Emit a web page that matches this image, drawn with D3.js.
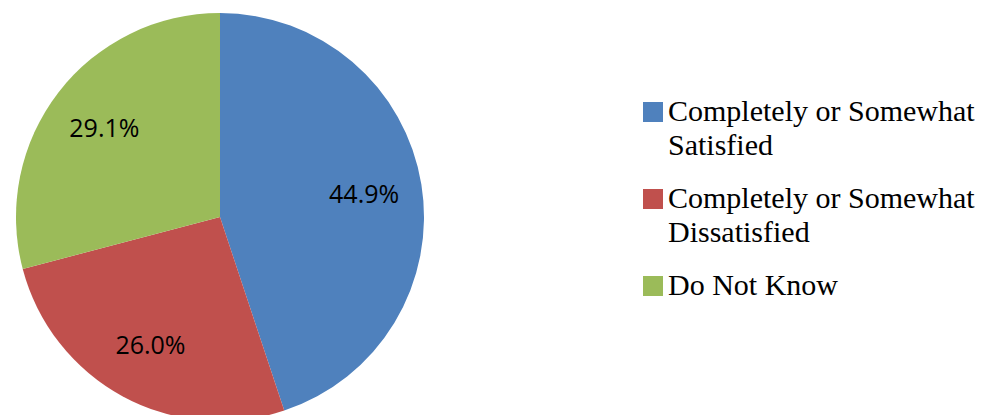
<!DOCTYPE html>
<html>
<head>
<meta charset="utf-8">
<script src="https://cdn.jsdelivr.net/npm/d3@7/dist/d3.min.js"></script>
<style>
  html, body { margin: 0; padding: 0; background: #ffffff; }
  svg { display: block; }
</style>
</head>
<body>
<svg id="chart" width="1005" height="415"></svg>
<script>
// Data
const categories = [
  ["Completely or Somewhat", "Satisfied"],
  ["Completely or Somewhat", "Dissatisfied"],
  ["Do Not Know"]
];
const values = [44.9, 26.0, 29.1];
const valueLabels = ["44.9%", "26.0%", "29.1%"];
const colors = ["#4F81BD", "#C0504D", "#9BBB59"];

const svg = d3.select("#chart");
const cx = 220, cy = 217, R = 204;

const pie = d3.pie().sort(null).value(d => d)(values);
const arc = d3.arc().innerRadius(0).outerRadius(R);
const labelArc = d3.arc().innerRadius(146).outerRadius(146);

const g = svg.append("g").attr("transform", `translate(${cx},${cy})`);

g.selectAll("path.slice")
  .data(pie)
  .join("path")
  .attr("class", "slice")
  .attr("d", arc)
  .attr("fill", (d, i) => colors[i]);

g.selectAll("text.lbl")
  .data(pie)
  .join("text")
  .attr("class", "lbl")
  .attr("transform", d => {
    const c = labelArc.centroid(d);
    return `translate(${c[0]},${c[1]})`;
  })
  .attr("text-anchor", "middle")
  .attr("dy", "0.36em")
  .attr("font-family", "'Open Sans', 'Liberation Sans', sans-serif")
  .attr("font-size", 25)
  .attr("fill", "#000")
  .text((d, i) => valueLabels[i]);

// Legend
const legX = 643, legY0 = 121, lineH = 34, itemGap = 53, sq = 20;
const leg = svg.append("g");
let y = legY0;
categories.forEach((lines, i) => {
  leg.append("rect")
    .attr("x", legX).attr("y", y - sq + 1)
    .attr("width", sq).attr("height", sq)
    .attr("fill", colors[i]);
  const t = leg.append("text")
    .attr("x", legX + 25).attr("y", y)
    .attr("font-family", "'Liberation Serif', 'Times New Roman', serif")
    .attr("font-size", 30)
    .attr("fill", "#000");
  lines.forEach((ln, j) => {
    t.append("tspan")
      .attr("x", legX + 25)
      .attr("y", y + j * lineH)
      .text(ln);
  });
  y += (lines.length - 1) * lineH + itemGap;
});
</script>
</body>
</html>
